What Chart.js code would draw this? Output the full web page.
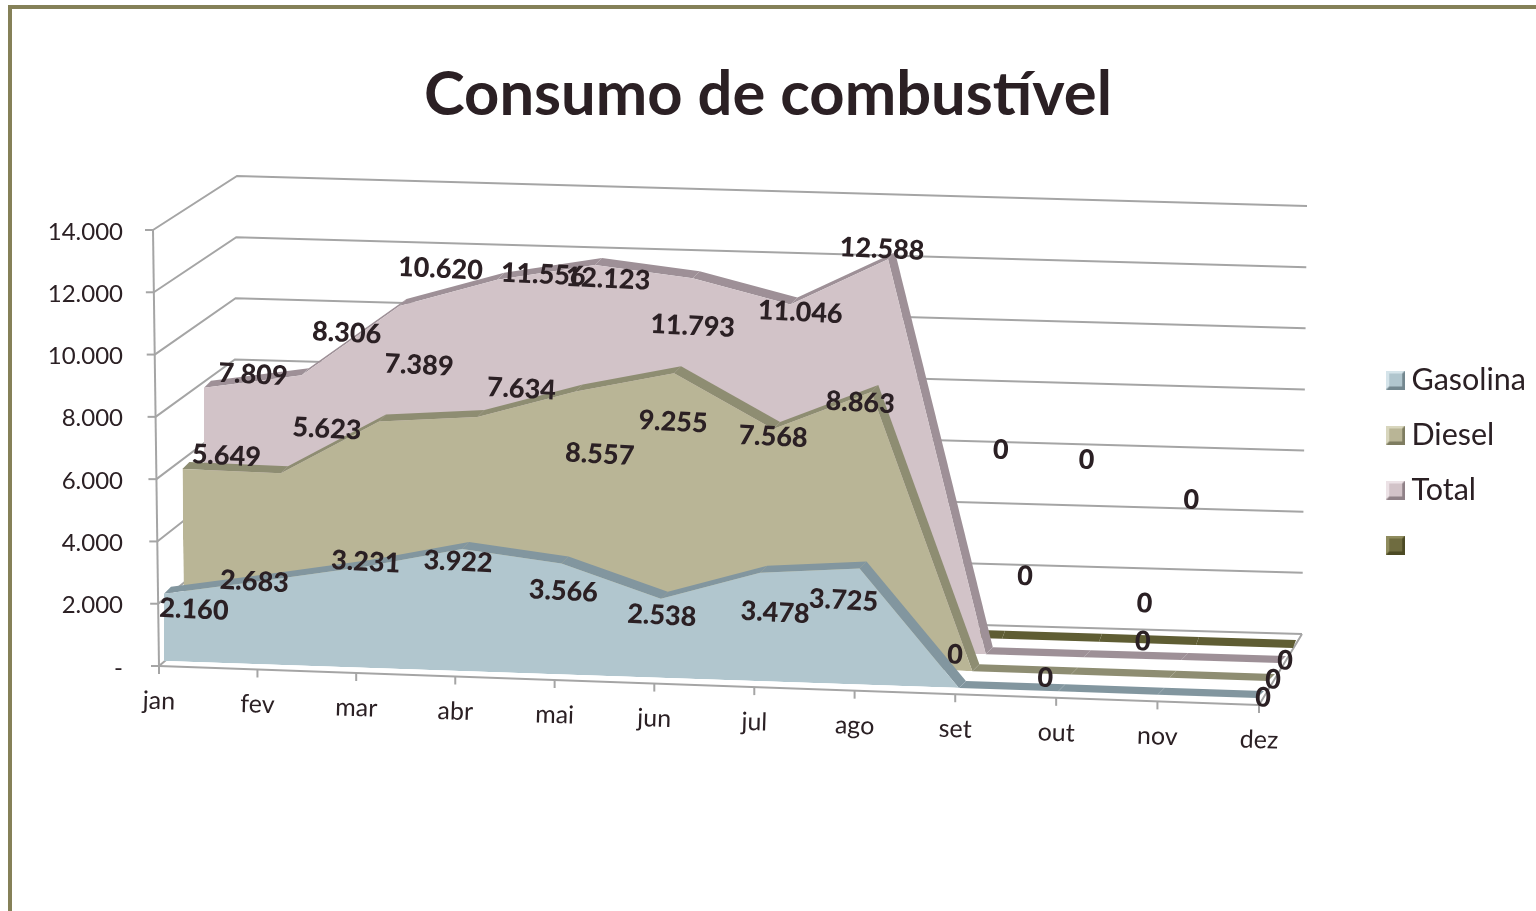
<!DOCTYPE html>
<html lang="pt">
<head>
<meta charset="utf-8">
<title>Consumo de combustível</title>
<style>
    html, body { margin: 0; background: #fff; }
    #frame { position: absolute; left: 8px; top: 5px; right: 0; bottom: 0; border-left: 4px solid #858158; border-top: 4px solid #858158; }
    #wrap { position: absolute; left: 0; top: 0; width: 1536px; height: 911px; }
</style>
</head>
<body>
<div id="frame"></div>
<div id="wrap"><canvas id="fuelChart"></canvas></div>
<script src="https://cdn.jsdelivr.net/npm/chart.js@4/dist/chart.umd.js"></script>
<script>
// --- Data ---
const months = ['jan', 'fev', 'mar', 'abr', 'mai', 'jun', 'jul', 'ago', 'set', 'out', 'nov', 'dez'];
const gasolina = [2160, 2683, 3231, 3922, 3566, 2538, 3478, 3725, 0, 0, 0, 0];
const diesel = [5649, 5623, 7389, 7634, 8557, 9255, 7568, 8863, 0, 0, 0, 0];
const total = [7809, 8306, 10620, 11556, 12123, 11793, 11046, 12588, 0, 0, 0, 0];
const blank = [0, 0, 0, 0, 0, 0, 0, 0, 0, 0, 0, 0];

// --- Look of the 3D box ---
const FONT = "Lato, 'Open Sans', sans-serif";
const TEXT = '#2b2024';
const GRID = '#a5a5a5';
const PERSPECTIVE = 1.0174; // months spread out slightly towards dez

// each plane: where (jan,0), (dez,0) and (jan,14000) land on the page
const frontWall = { o: [159, 666], x: [1259, 705], y: [153, 230] };
const backWall = { o: [232, 604], x: [1302, 634], y: [237, 176] };
const layers = [
    { o: [164, 661], x: [1257, 698], y: [164, 225], band: '#82969f', off: [7, -7] },
    { o: [184, 645], x: [1268, 681], y: [180, 209], band: '#8e8d72', off: [7, -7] },
    { o: [204, 631], x: [1279, 663], y: [204, 195], band: '#9e9097', off: [7, -7] },
    { o: [226, 614], x: [1293, 648], y: [226, 178], band: '#5f5d33', off: [3, -8] }
];

// nudges of the value labels away from their point, as Excel left them
const shiftGasolina = [[30, 16], [-9, 1], [3, -5], [-4, 13], [2, 28], [1, 17], [15, 40], [-16, 32], [-4, -33], [-13, -13], [-15, -53], [6, 0]];
const shiftDiesel = [[44, -13], [46, -44], [40, -56], [44, -28], [24, 63], [-1, 49], [0, 8], [-11, 11], null, [-46, -98], [-25, -74], [5, -1]];
const shiftTotal = [[49, -13], [45, -42], [41, -37], [46, -5], [13, 14], [0, 48], [10, 8], [-6, -10], [15, -204], [3, -197], [10, -160], [6, -2]];
const labelShifts = [shiftGasolina, shiftDiesel, shiftTotal];

const formatValue = v => String(v).replace(/\B(?=(\d{3})+$)/g, '.');

// bevelled legend swatch
function makeSwatch(base, light, dark) {
    const c = document.createElement('canvas');
    c.width = 19;
    c.height = 19;
    const g = c.getContext('2d');
    g.fillStyle = light;
    g.fillRect(0, 0, 19, 19);
    g.fillStyle = dark;
    g.beginPath();
    g.moveTo(0, 19); g.lineTo(19, 19); g.lineTo(19, 0); g.closePath();
    g.fill();
    g.fillStyle = base;
    g.fillRect(3, 3, 13, 13);
    return c;
}

// matrix that carries chart pixels onto a plane
function planeMatrix(chart, plane) {
    const xs = chart.scales.x;
    const ys = chart.scales.y;
    const x0 = xs.getPixelForValue(0);
    const x1 = xs.getPixelForValue(months.length - 1);
    const yb = ys.getPixelForValue(0);
    const yt = ys.getPixelForValue(14000);
    const a = (plane.x[0] - plane.o[0]) / (x1 - x0);
    const b = (plane.x[1] - plane.o[1]) / (x1 - x0);
    const c = (plane.y[0] - plane.o[0]) / (yt - yb);
    const d = (plane.y[1] - plane.o[1]) / (yt - yb);
    return {
        a, b, c, d,
        e: plane.o[0] - a * x0 - c * yb,
        f: plane.o[1] - b * x0 - d * yb
    };
}

const project = (m, px, py) => [m.a * px + m.c * py + m.e, m.b * px + m.d * py + m.f];

function strokeLine(ctx, points) {
    ctx.beginPath();
    points.forEach((p, i) => (i ? ctx.lineTo(p[0], p[1]) : ctx.moveTo(p[0], p[1])));
    ctx.stroke();
}

const box3d = {
    id: 'box3d',

    // side wall, back wall, axes and month labels
    beforeDatasetsDraw(chart) {
        const { ctx, scales: { x: xs, y: ys } } = chart;
        const front = planeMatrix(chart, frontWall);
        const back = planeMatrix(chart, backWall);
        const xa = xs.getPixelForValue(0);
        const xb = xs.getPixelForValue(months.length - 1);
        const y0 = ys.getPixelForValue(0);

        ctx.save();
        ctx.strokeStyle = GRID;
        ctx.lineWidth = 2;
        ys.ticks.forEach(t => {
            const py = ys.getPixelForValue(t.value);
            const f = project(front, xa, py);
            strokeLine(ctx, [f, project(back, xa, py), project(back, xb, py)]);
            strokeLine(ctx, [[f[0] - 8, f[1]], f]);
        });
        strokeLine(ctx, [project(front, xa, ys.getPixelForValue(14000)), project(front, xa, y0)]);
        strokeLine(ctx, [project(front, xa, y0), project(front, xb, y0), project(back, xb, y0)]);

        ctx.fillStyle = TEXT;
        ctx.font = '25px ' + FONT;
        ctx.textAlign = 'center';
        ctx.textBaseline = 'middle';
        months.forEach((name, i) => {
            const t = i / (months.length - 1);
            const warped = t / (PERSPECTIVE - (PERSPECTIVE - 1) * t);
            const p = project(front, xa + warped * (xb - xa), y0);
            strokeLine(ctx, [p, [p[0], p[1] + 8]]);
            ctx.save();
            ctx.translate(p[0], p[1] + 35);
            ctx.rotate(0.03);
            ctx.fillText(name, 0, 0);
            ctx.restore();
        });
        ctx.restore();
    },

    // runs ahead of the filler, so the area lands on the skewed plane
    beforeDatasetDraw(chart, args) {
        const { ctx } = chart;
        const layer = layers[args.index];
        const m = planeMatrix(chart, layer);
        const pts = args.meta.data.map(p => project(m, p.x, p.y));

        ctx.save();
        ctx.fillStyle = layer.band;
        for (let i = 0; i < pts.length - 1; i++) {
            const [ax, ay] = pts[i];
            const [bx, by] = pts[i + 1];
            ctx.beginPath();
            ctx.moveTo(ax, ay);
            ctx.lineTo(bx, by);
            ctx.lineTo(bx + layer.off[0], by + layer.off[1]);
            ctx.lineTo(ax + layer.off[0], ay + layer.off[1]);
            ctx.closePath();
            ctx.fill();
        }
        ctx.transform(m.a, m.b, m.c, m.d, m.e, m.f);
    },

    afterDatasetDraw(chart) {
        chart.ctx.restore();
    },

    // value labels, tilted a little like the rest of the picture
    afterDatasetsDraw(chart) {
        const { ctx } = chart;
        ctx.save();
        ctx.fillStyle = TEXT;
        ctx.font = '900 27px ' + FONT;
        ctx.textAlign = 'center';
        ctx.textBaseline = 'middle';
        labelShifts.forEach((shifts, s) => {
            const m = planeMatrix(chart, layers[s]);
            const meta = chart.getDatasetMeta(s);
            shifts.forEach((shift, i) => {
                if (!shift) return;
                const p = project(m, meta.data[i].x, meta.data[i].y);
                ctx.save();
                ctx.translate(p[0] + shift[0], p[1] + shift[1]);
                ctx.rotate(0.05);
                ctx.fillText(formatValue(chart.data.datasets[s].data[i]), 0, 0);
                ctx.restore();
            });
        });
        ctx.restore();
    }
};

// filler has to come after box3d for the transform to apply to it
Chart.unregister(Chart.Filler);
Chart.register(box3d, Chart.Filler);

function series(label, data, color, light, dark) {
    return {
        label,
        data,
        backgroundColor: color,
        borderWidth: 0,
        pointRadius: 0,
        pointHoverRadius: 0,
        tension: 0,
        fill: 'origin',
        clip: false,
        pointStyle: makeSwatch(color, light, dark)
    };
}

new Chart(document.getElementById('fuelChart'), {
    type: 'line',
    data: {
        labels: months,
        datasets: [
            series('Gasolina', gasolina, '#b1c6ce', '#d5e4ea', '#73878f'),
            series('Diesel', diesel, '#b9b596', '#d8d6bd', '#7e7c60'),
            series('Total', total, '#d2c3c8', '#ece2e6', '#8f8187'),
            series('', blank, '#6f6c40', '#8f8c5e', '#4c4a24')
        ]
    },
    options: {
        responsive: true,
        maintainAspectRatio: false,
        animation: false,
        layout: { padding: { top: 14 } },
        scales: {
            x: {
                grid: { display: false, drawTicks: false },
                border: { display: false },
                ticks: { display: false },
                afterFit: s => { s.height = 243; }
            },
            y: {
                min: 0,
                max: 14000,
                grid: { display: false, drawTicks: false },
                border: { display: false },
                afterFit: s => { s.width = 130; },
                ticks: {
                    stepSize: 2000,
                    padding: 7,
                    color: TEXT,
                    font: { family: FONT, size: 24 },
                    callback: v => (v === 0 ? '-' : formatValue(v))
                }
            }
        },
        plugins: {
            tooltip: { enabled: false },
            title: {
                display: true,
                text: 'Consumo de combustível',
                color: TEXT,
                font: { family: FONT, size: 61.5, weight: 'bold' },
                padding: { top: 44, bottom: 100 }
            },
            legend: {
                position: 'right',
                labels: {
                    usePointStyle: true,
                    pointStyleWidth: 1,
                    color: TEXT,
                    font: { family: FONT, size: 30.5 },
                    padding: 24.5
                }
            }
        }
    }
});
</script>
</body>
</html>
